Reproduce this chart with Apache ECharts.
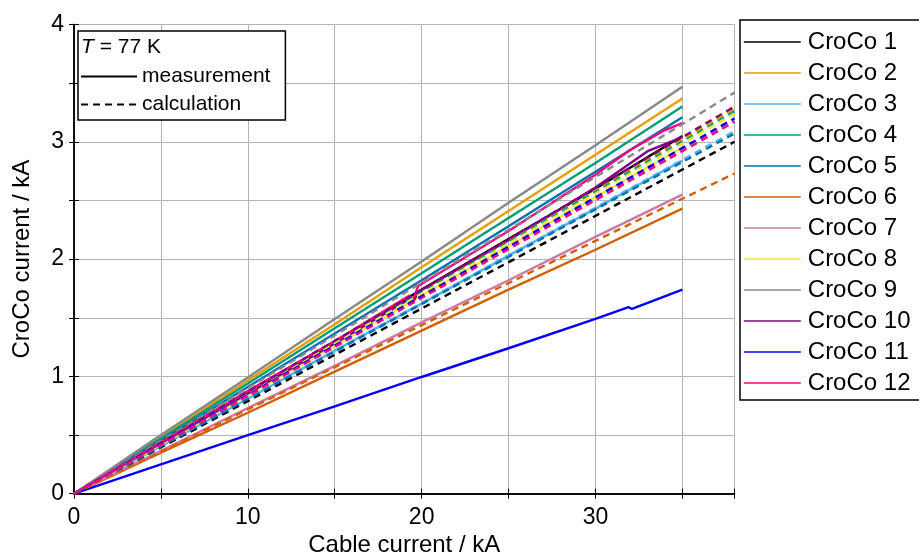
<!DOCTYPE html>
<html>
<head>
<meta charset="utf-8">
<script src="https://cdn.jsdelivr.net/npm/echarts@6/dist/echarts.min.js"></script>
<style>
html,body{margin:0;padding:0;background:#fff;}
#c{width:919px;height:554px;}
</style>
</head>
<body>
<div id="c"></div>
<script>
// ---- data ----
const names = ['CroCo 1','CroCo 2','CroCo 3','CroCo 4','CroCo 5','CroCo 6','CroCo 7','CroCo 8','CroCo 9','CroCo 10','CroCo 11','CroCo 12'];
const colors = ['#000000','#E69F00','#56B4E9','#009E73','#0072B2','#D55E00','#CC79A7','#F0E442','#888888','#800080','#0000FF','#FF0080'];

// measurement x positions (kA)
const xStd = [0,5,10,15,20,25,30,35];
const xKink10 = [0,5,10,15,19.3,19.5,19.8,25,30,33,35];
const xKink12 = [0,5,10,15,19.3,19.5,19.8,25,30,32,34,35];
const xKink11 = [0,5,10,15,20,25,30,31.9,32.1,35];

// measured CroCo currents (kA)
const m1  = [0,0.435,0.87,1.30,1.74,2.17,2.60,3.05];
const m2  = [0,0.482,0.965,1.445,1.93,2.41,2.89,3.37];
const m3  = [0,0.405,0.81,1.22,1.62,2.03,2.43,2.84];
const m4  = [0,0.47,0.94,1.41,1.88,2.35,2.82,3.30];
const m5  = [0,0.455,0.91,1.365,1.82,2.28,2.745,3.21];
const m6  = [0,0.35,0.69,1.04,1.39,1.74,2.08,2.43];
const m7  = [0,0.365,0.73,1.09,1.46,1.82,2.19,2.55];
const m8  = [0,0.42,0.84,1.26,1.69,2.11,2.53,2.95];
const m9  = [0,0.50,0.99,1.49,1.98,2.48,2.97,3.47];
const m10 = [0,0.43,0.855,1.28,1.66,1.63,1.72,2.16,2.61,2.92,3.04];
const m11 = [0,0.25,0.50,0.745,0.995,1.24,1.49,1.59,1.575,1.74];
const m12 = [0,0.44,0.875,1.30,1.69,1.65,1.77,2.24,2.72,2.93,3.10,3.16];

const measX = [xStd,xStd,xStd,xStd,xStd,xStd,xStd,xStd,xStd,xKink10,xKink11,xKink12];
const measY = [m1,m2,m3,m4,m5,m6,m7,m8,m9,m10,m11,m12];

// calculated CroCo currents (kA), linear from 0 to 38 kA cable current
const xCalc = [0,38];
const calcEnd = [3.00,3.28,3.09,3.26,3.07,2.73,3.18,3.24,3.42,3.30,3.20,3.17];

// axis ticks
const xTicks = {min:0,max:38,interval:5};
const yTicks = {min:0,max:4,interval:0.5};

// ---- chart ----
const chart = echarts.init(document.getElementById('c'));
const FONT = 'Liberation Sans, Arial, sans-serif';
const series = [];
names.forEach((n,i)=>{
  series.push({
    name:n, type:'line', xAxisIndex:0, yAxisIndex:0, symbol:'none', z:2,
    data: measX[i].map((x,k)=>[x,measY[i][k]]),
    lineStyle:{color:colors[i],width:2.4}, itemStyle:{color:colors[i]}
  });
});
names.forEach((n,i)=>{
  series.push({
    name:n+' calc', type:'line', symbol:'none', z:3,
    data: xCalc.map((x,k)=>[x, k===0?0:calcEnd[i]]),
    lineStyle:{color:colors[i],width:2.4,type:[7,5]}, itemStyle:{color:colors[i]}
  });
});
series.push({name:'measurement',type:'line',symbol:'none',data:[],lineStyle:{color:'#000',width:1.5},itemStyle:{color:'#000'}});
series.push({name:'calculation',type:'line',symbol:'none',data:[],lineStyle:{color:'#000',width:1.5,type:[7,5]},itemStyle:{color:'#000'}});

const axisLine = {show:true,lineStyle:{color:'#000',width:1.5}};
const tick = {show:true,inside:true,length:5,lineStyle:{color:'#000',width:1}};
const split = {show:true,lineStyle:{color:'#b4b4b4',width:1}};

chart.setOption({
  animation:false,
  backgroundColor:'#fff',
  textStyle:{fontFamily:FONT},
  grid:{left:74,top:24.5,right:184.5,bottom:60.3,containLabel:false,outerBoundsMode:'none'},
  title:{
    text:'{i|T} = 77 K', left:81, top:37, padding:0,
    textStyle:{fontFamily:FONT,fontSize:21,fontWeight:'normal',color:'#000',
      rich:{i:{fontFamily:FONT,fontSize:21,fontStyle:'italic',color:'#000'}}}
  },
  legend:[{
    data:names, orient:'vertical', left:740, top:20,
    padding:[10,60,5,3], itemWidth:57, itemHeight:14, itemGap:7,
    borderColor:'#000', borderWidth:1.5, backgroundColor:'#fff',
    itemStyle:{opacity:0}, lineStyle:{width:1.6},
    textStyle:{fontFamily:FONT,fontSize:24,color:'#000',padding:[0,0,0,2]}, selectedMode:false
  },{
    data:['measurement','calculation'], orient:'vertical', left:78, top:31,
    padding:[35,15,5,2], itemWidth:56, itemHeight:14, itemGap:7,
    borderColor:'#000', borderWidth:1.5, backgroundColor:'#fff',
    itemStyle:{opacity:0},
    textStyle:{fontFamily:FONT,fontSize:21,color:'#000'}, selectedMode:false
  }],
  xAxis:[{
    type:'value', position:'bottom', min:xTicks.min, max:xTicks.max, interval:xTicks.interval,
    axisLine:axisLine, axisTick:tick, splitLine:split,
    axisLabel:{fontFamily:FONT,fontSize:23,color:'#000',margin:12,
      formatter:v=> (v%10===0 ? String(v) : '')},
    name:'Cable current / kA', nameLocation:'middle', nameGap:33,
    nameTextStyle:{fontFamily:FONT,fontSize:24,color:'#000'}
  },{
    type:'value', position:'top', min:xTicks.min, max:xTicks.max, interval:xTicks.interval,
    axisLine:axisLine, axisTick:tick, splitLine:{show:false}, axisLabel:{show:false}
  }],
  yAxis:[{
    type:'value', position:'left', min:yTicks.min, max:yTicks.max, interval:yTicks.interval,
    axisLine:axisLine, axisTick:tick, splitLine:split,
    axisLabel:{fontFamily:FONT,fontSize:23,color:'#000',margin:10,
      formatter:v=> (v%1===0 ? String(v) : '')},
    name:'CroCo current / kA', nameLocation:'middle', nameGap:40, nameRotate:90,
    nameTextStyle:{fontFamily:FONT,fontSize:24,color:'#000'}
  },{
    type:'value', position:'right', min:yTicks.min, max:yTicks.max, interval:yTicks.interval,
    axisLine:axisLine, axisTick:tick, splitLine:{show:false}, axisLabel:{show:false}
  }],
  series:series
});
</script>
</body>
</html>
